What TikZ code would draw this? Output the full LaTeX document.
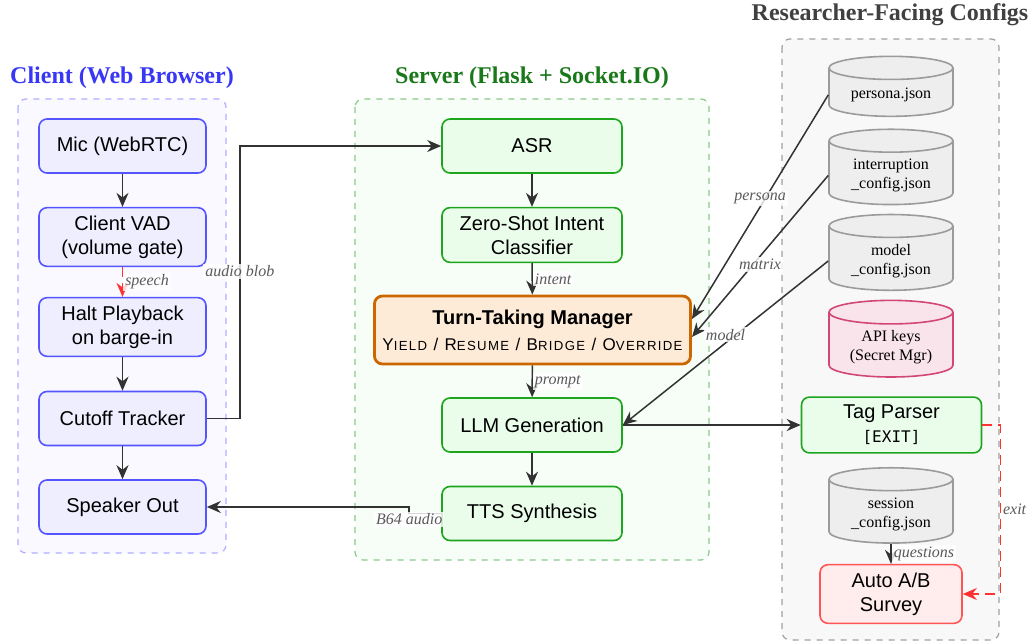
\documentclass[tikz,border=0pt]{standalone}
\usepackage{fontspec}
\setmainfont{Liberation Serif}
\setsansfont{Liberation Sans}
\setmonofont{DejaVu Sans Mono}
\newfontfamily\spacedsans[LetterSpace=10]{Liberation Sans}
\usetikzlibrary{arrows.meta,shapes.geometric}
\definecolor{clientblue}{RGB}{55,55,245}
\definecolor{clientline}{RGB}{85,85,255}
\definecolor{clientfill}{RGB}{238,238,255}
\definecolor{clientbg}{RGB}{249,249,255}
\definecolor{clientdash}{RGB}{175,175,255}
\definecolor{servergreen}{RGB}{25,120,25}
\definecolor{serverline}{RGB}{30,165,30}
\definecolor{serverfill}{RGB}{234,252,234}
\definecolor{serverbg}{RGB}{247,254,247}
\definecolor{serverdash}{RGB}{140,200,140}
\definecolor{mgrline}{RGB}{204,102,0}
\definecolor{mgrfill}{RGB}{253,235,215}
\definecolor{cfgtitle}{RGB}{64,64,64}
\definecolor{cfgbg}{RGB}{248,248,248}
\definecolor{cfgdash}{RGB}{160,160,160}
\definecolor{dbline}{RGB}{155,155,155}
\definecolor{dbfill}{RGB}{238,238,238}
\definecolor{keyline}{RGB}{210,70,120}
\definecolor{keyfill}{RGB}{250,228,236}
\definecolor{surveyline}{RGB}{255,85,85}
\definecolor{surveyfill}{RGB}{255,236,236}
\definecolor{arrowgray}{RGB}{50,50,50}
\definecolor{labelgray}{RGB}{90,90,90}
\definecolor{exitred}{RGB}{255,50,50}
\newcommand{\fsc}[2]{#1{\fontsize{6.6}{7}\selectfont #2}}
\tikzset{
    box/.style={rounded corners=4pt, line width=0.8pt, align=center,
        font=\sffamily, inner sep=4pt, minimum height=27pt},
    clientbox/.style={box, draw=clientline, fill=clientfill, minimum width=83.5pt},
    serverbox/.style={box, draw=serverline, fill=serverfill, minimum width=90pt},
    mgrbox/.style={box, draw=mgrline, fill=mgrfill, line width=1.4pt,
        minimum width=157.5pt, minimum height=34pt},
    surveybox/.style={box, draw=surveyline, fill=surveyfill, minimum width=71pt,
        minimum height=29pt},
    configdb/.style={cylinder, shape border rotate=90, aspect=0.25, draw=dbline,
        fill=dbfill, line width=0.8pt, minimum width=62pt, minimum height=30pt,
        font=\footnotesize, align=center, inner sep=3pt},
    secretdb/.style={configdb, draw=keyline, fill=keyfill},
    area/.style={rounded corners=4pt, dashed, line width=0.6pt},
    grouptitle/.style={font=\large\bfseries},
    arr/.style={-{Stealth[length=7pt,width=6pt]}, line width=0.75pt, draw=arrowgray},
    redarr/.style={arr, draw=exitred, dash pattern=on 5pt off 3pt},
    lbl/.style={font=\footnotesize\itshape, text=labelgray, fill=white,
        fill opacity=0.8, text opacity=1, inner sep=1pt},
}
\begin{document}
\begin{tikzpicture}[x=0.5pt,y=-0.5pt]
\useasboundingbox (0,0) rectangle (1033,641);
\draw[area, draw=clientdash, fill=clientbg] (18,99) rectangle (226,553);
\draw[area, draw=serverdash, fill=serverbg] (355,99) rectangle (709,560);
\draw[area, draw=cfgdash, fill=cfgbg] (782,39) rectangle (999,640);
\node[grouptitle, text=clientblue] (clienttitle) at (122,78) {Client (Web Browser)};
\node[grouptitle, text=servergreen] (servertitle) at (532,78) {Server (Flask + Socket.IO)};
\node[grouptitle, text=cfgtitle] (cfgtitle) at (890,15) {Researcher-Facing Configs};

\node[clientbox] (mic) at (122.5,146) {Mic (WebRTC)};
\node[clientbox] (vad) at (122.5,237) {Client VAD\\(volume gate)};
\node[clientbox] (halt) at (122.5,327) {Halt Playback\\on barge-in};
\node[clientbox] (cutoff) at (122.5,418.5) {Cutoff Tracker};
\node[clientbox] (spk) at (122.5,507) {Speaker Out};

\node[serverbox] (asr) at (532,146) {ASR};
\node[serverbox] (intent) at (532,235) {Zero-Shot Intent\\Classifier};
\node[mgrbox] (ttm) at (532.5,330) {\textbf{Turn-Taking Manager}\\[1pt]
    {\spacedsans\fontsize{8.5}{9}\selectfont \fsc{Y}{IELD} / \fsc{R}{ESUME} / \fsc{B}{RIDGE} / \fsc{O}{VERRIDE}}};
\node[serverbox] (llm) at (532,425) {LLM Generation};
\node[serverbox] (tts) at (532,513.5) {TTS Synthesis};

\node[configdb] (persona) at (891,95) {persona.json};
\node[configdb] (interrupt) at (891,175.5) {interruption\\\_config.json};
\node[configdb] (modelcfg) at (891,261) {model\\\_config.json};
\node[secretdb] (apikeys) at (891,347.5) {API keys\\(Secret Mgr)};
\node[serverbox] (tagparser) at (891.5,425) {Tag Parser\\{\ttfamily\footnotesize [EXIT]}};
\node[configdb] (session) at (891,514) {session\\\_config.json};
\node[surveybox] (survey) at (891,594) {Auto A/B\\Survey};

\draw[arr] (mic) -- (vad);
\draw[redarr] (vad) -- node[lbl, right] {speech} (halt);
\draw[arr] (halt) -- (cutoff);
\draw[arr] (cutoff) -- (spk);
\draw[arr] (cutoff.east) -- ++(33,0) |- node[lbl, pos=0.27] {audio blob} (asr.west);

\draw[arr] (asr) -- (intent);
\draw[arr] (intent) -- node[lbl, right] {intent} (ttm);
\draw[arr] (ttm) -- node[lbl, right] {prompt} (llm);
\draw[arr] (llm) -- (tts);
\draw[arr] (tts.west) -- ++(-32,0) node[lbl, yshift=-3pt] {B64 audio} |- (spk.east);

\draw[arr] (persona.west) -- node[lbl, midway, above] {persona} ([yshift=5.5pt]ttm.east);
\draw[arr] (interrupt.west) -- node[lbl, midway, below] {matrix} ([yshift=-3.5pt]ttm.east);
\draw[arr] (modelcfg.west) -- node[lbl, midway, above] {model} (llm.east);
\draw[arr] (llm.east) -- (tagparser.west);
\draw[redarr] (tagparser.east) -- ++(18,0) |- node[lbl, right, pos=0.25] {exit} (survey.east);
\draw[arr] (session.south) -- node[lbl, right] {questions} (survey.north);
\end{tikzpicture}
\end{document}
